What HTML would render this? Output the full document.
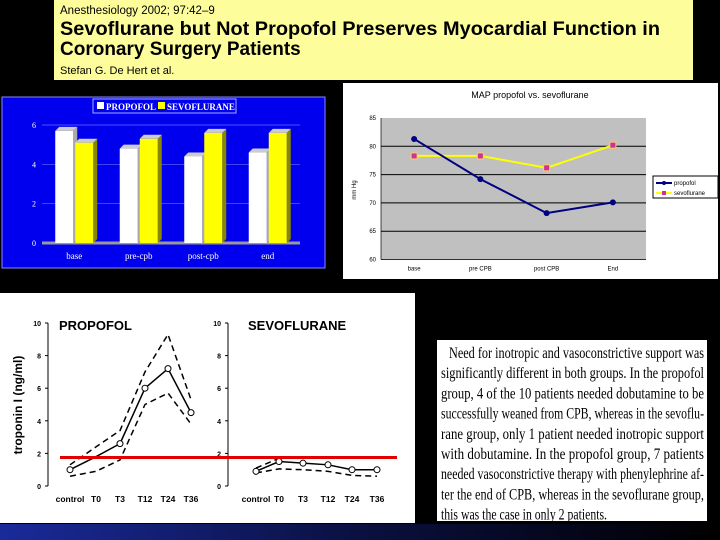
<!DOCTYPE html>
<html><head><meta charset="utf-8"><style>
html,body{margin:0;padding:0;background:#000;}
svg{display:block;font-family:"Liberation Sans",sans-serif;}
</style></head><body>
<svg id="s" width="720" height="540" viewBox="0 0 720 540">
<rect x="0" y="0" width="720" height="540" fill="#000"/>
<defs><linearGradient id="bg" x1="0" x2="1"><stop offset="0" stop-color="#1a2a9a"/><stop offset="0.5" stop-color="#0a1040"/><stop offset="1" stop-color="#000"/></linearGradient></defs>
<rect x="0" y="524" width="720" height="16" fill="url(#bg)"/>
<g>
<rect x="54" y="0" width="639" height="80" fill="#fdfd9c"/>
<text x="60" y="14" font-size="11.5" fill="#000">Anesthesiology 2002; 97:42–9</text>
<text x="60" y="35" font-size="19" font-weight="bold" fill="#000" textLength="600" lengthAdjust="spacingAndGlyphs">Sevoflurane but Not Propofol Preserves Myocardial Function in</text>
<text x="60" y="55" font-size="19" font-weight="bold" fill="#000">Coronary Surgery Patients</text>
<text x="60" y="74" font-size="11" fill="#000">Stefan G. De Hert et al.</text>
</g>
<g id="bar">
<rect x="2" y="97" width="323" height="171" fill="#0000ee" stroke="#8888ff"/>
<rect x="93" y="99" width="143" height="14" fill="none" stroke="#aaaaff"/>
<rect x="97" y="102" width="7" height="7" fill="#fff"/>
<text x="106" y="110" font-size="9" font-family="Liberation Serif" font-weight="bold" fill="#fff">PROPOFOL</text>
<rect x="158" y="102" width="7" height="7" fill="#ffff00"/>
<text x="167" y="110" font-size="9" font-family="Liberation Serif" font-weight="bold" fill="#fff">SEVOFLURANE</text>
</g>
<g id="map">
<rect x="343" y="83" width="375" height="196" fill="#fff"/>
<rect x="381" y="118" width="265" height="142" fill="#c0c0c0"/>
<text x="530" y="98" font-size="9" text-anchor="middle" fill="#000">MAP propofol vs. sevoflurane</text>
<text x="356" y="190" font-size="6" text-anchor="middle" transform="rotate(-90 356 190)">mm Hg</text>
<rect x="653" y="176" width="65" height="22" fill="#fff" stroke="#000"/>
<line x1="656" y1="183" x2="672" y2="183" stroke="#000080" stroke-width="2"/>
<circle cx="664" cy="183" r="2" fill="#000080"/>
<text x="674" y="185" font-size="6">propofol</text>
<line x1="656" y1="193" x2="672" y2="193" stroke="#ffff00" stroke-width="2"/>
<rect x="662" y="191" width="4" height="4" fill="#cc3399"/>
<text x="674" y="195" font-size="6">sevoflurane</text>
</g>
<g id="trop">
<rect x="0" y="293" width="415" height="230" fill="#fff"/>
<text x="22" y="405" font-size="12" font-weight="bold" text-anchor="middle" transform="rotate(-90 22 405)">troponin I (ng/ml)</text>
<text x="59" y="330" font-size="13" font-weight="bold">PROPOFOL</text>
<text x="248" y="330" font-size="13" font-weight="bold">SEVOFLURANE</text>
</g>
<g>
<rect x="437" y="340" width="270" height="181" fill="#fff"/>
<g id="para" font-family="Liberation Serif" font-size="16" fill="#000"></g>
</g>
</svg>
<script>
const NS="http://www.w3.org/2000/svg";
function mk(parent,tag,attrs){const e=document.createElementNS(NS,tag);for(const k in attrs)e.setAttribute(k,attrs[k]);parent.appendChild(e);return e;}

// ---- Bar chart data ----
const barCats=["base","pre-cpb","post-cpb","end"];
const barPropofol=[5.7,4.8,4.4,4.6];
const barSevo=[5.1,5.3,5.6,5.6];
const barTicks=[0,2,4,6];

// ---- MAP chart data ----
const mapCats=["base","pre CPB","post CPB","End"];
const mapPropofol=[81.3,74.2,68.2,70.1];
const mapSevo=[78.3,78.3,76.2,80.2];
const mapTicks=[85,80,75,70,65,60];

// ---- Troponin data ----
const tropCats=["control","T0","T3","T12","T24","T36"];
const propMean=[1.0,1.8,2.6,6.0,7.2,4.5];
const propUpper=[1.3,2.4,3.4,7.0,9.3,5.3];
const propLower=[0.6,0.9,1.6,5.0,5.7,3.8];
const sevoMean=[0.9,1.5,1.4,1.3,1.0,1.0];
const sevoUpper=[1.1,1.7,1.7,1.7,1.7,1.7];
const sevoLower=[0.8,1.05,1.0,0.9,0.65,0.6];
const tropTicks=[0,2,4,6,8,10];
const thresholdValue=1.75;

// Bar chart
(function(){
 const g=document.getElementById('bar');
 const x0=42,x1=300,y0=243,yTop=125,vmax=6;
 const y=v=>y0-(v/vmax)*(y0-yTop);
 const band=(x1-x0)/barCats.length;
 const cx=i=>x0+band*(i+0.5);
 barTicks.forEach(t=>{
  if(t>0){const l=mk(g,'line',{x1:x0,y1:y(t),x2:x1,y2:y(t),stroke:'#6a6aff','stroke-width':0.7});
  }
  const tx=mk(g,'text',{x:x0-6,y:y(t)+3,'font-size':8,fill:'#fff','text-anchor':'end','font-family':'Liberation Serif'});tx.textContent=t;
  
 });
 mk(g,'line',{x1:x0,y1:y0,x2:x1,y2:y0,stroke:'#999','stroke-width':3});
 const bw=18,d=4;
 function bar(xl,v,front,side,name){
  const top=y(v);
  mk(g,'polygon',{points:`${xl+bw},${top} ${xl+bw+d},${top-d} ${xl+bw+d},${y0-d} ${xl+bw},${y0}`,fill:side});
  mk(g,'polygon',{points:`${xl},${top} ${xl+d},${top-d} ${xl+bw+d},${top-d} ${xl+bw},${top}`,fill:'#ccc'});
  const r=mk(g,'rect',{x:xl,y:top,width:bw,height:y0-top,fill:front});
  
 }
 barCats.forEach((c,i)=>{
  bar(cx(i)-bw-1,barPropofol[i],'#fff','#aaa','bar-propofol');
  bar(cx(i)+1,barSevo[i],'#ffff00','#888800','bar-sevoflurane');
  const tx=mk(g,'text',{x:cx(i),y:y0+16,'font-size':9,fill:'#fff','text-anchor':'middle','font-family':'Liberation Serif'});tx.textContent=c;
  
 });
})();

// MAP chart
(function(){
 const g=document.getElementById('map');
 const x0=381,x1=646,yT=118,yB=259.5,vT=85,vB=60;
 const y=v=>yT+(vT-v)/(vT-vB)*(yB-yT);
 const band=(x1-x0)/mapCats.length;
 const cx=i=>x0+band*(i+0.5);
 mapTicks.forEach(t=>{
  if(t!==vT&&t!==vB){const l=mk(g,'line',{x1:x0,y1:y(t),x2:x1,y2:y(t),stroke:'#000','stroke-width':1});
  }
  const tx=mk(g,'text',{x:x0-5,y:y(t)+2,'font-size':6,'text-anchor':'end'});tx.textContent=t;
  
 });
 mk(g,'line',{x1:x0,y1:yT,x2:x0,y2:yB,stroke:'#000','stroke-width':0.7});
 mk(g,'line',{x1:x0,y1:yB,x2:x1,y2:yB,stroke:'#000','stroke-width':0.7});
 mapCats.forEach((c,i)=>{
  const tx=mk(g,'text',{x:cx(i),y:yB+11,'font-size':6,'text-anchor':'middle'});tx.textContent=c;
  
 });
 const sp=mk(g,'polyline',{points:mapSevo.map((v,i)=>cx(i)+','+y(v)).join(' '),fill:'none',stroke:'#ffff00','stroke-width':2});
 
 mapSevo.forEach((v,i)=>{const r=mk(g,'rect',{x:cx(i)-3,y:y(v)-3,width:6,height:6,fill:'#cc3399',stroke:'#ffcc66','stroke-width':1});
  });
 const pp=mk(g,'polyline',{points:mapPropofol.map((v,i)=>cx(i)+','+y(v)).join(' '),fill:'none',stroke:'#000080','stroke-width':2});
 
 mapPropofol.forEach((v,i)=>{const c=mk(g,'circle',{cx:cx(i),cy:y(v),r:3,fill:'#000080'});
  });
})();

// Troponin charts
(function(){
 const g=document.getElementById('trop');
 const y0=486,yTop=323;
 const y=v=>y0-(v/10)*(y0-yTop);
 function panel(ax,xs,mean,up,lo,name){
  mk(g,'line',{x1:ax,y1:yTop,x2:ax,y2:y0,stroke:'#000','stroke-width':1});
  tropTicks.forEach(t=>{
   mk(g,'line',{x1:ax-3,y1:y(t),x2:ax,y2:y(t),stroke:'#000'});
   const tx=mk(g,'text',{x:ax-7,y:y(t)+3,'font-size':7,'font-weight':'bold','text-anchor':'end'});tx.textContent=t;
   
  });
  tropCats.forEach((c,i)=>{
   const tx=mk(g,'text',{x:xs[i],y:y0+16,'font-size':8.5,'font-weight':'bold','text-anchor':'middle'});tx.textContent=c;
   
  });
  [up,lo].forEach(arr=>{const l=mk(g,'polyline',{points:arr.map((v,i)=>xs[i]+','+y(v)).join(' '),fill:'none',stroke:'#000','stroke-width':1.5,'stroke-dasharray':'6,4'});
   });
  const m=mk(g,'polyline',{points:mean.map((v,i)=>xs[i]+','+y(v)).join(' '),fill:'none',stroke:'#000','stroke-width':1.5});
  
  mean.forEach((v,i)=>{if(i===1&&name==='propofol')return;const c=mk(g,'circle',{cx:xs[i],cy:y(v),r:3,fill:'#fff',stroke:'#000'});
   });
 }
 const xsL=[70,96,120,145,168,191];
 const xsR=[256,279,303,328,352,377];
 panel(48,xsL,propMean,propUpper,propLower,'propofol');
 panel(228,xsR,sevoMean,sevoUpper,sevoLower,'sevoflurane');
 const r=mk(g,'line',{x1:60,y1:y(thresholdValue),x2:397,y2:y(thresholdValue),stroke:'#e00000','stroke-width':3});
 
})();

// paragraph
(function(){
 const g=document.getElementById('para');
 const lines=["Need for inotropic and vasoconstrictive support was","significantly different in both groups. In the propofol","group, 4 of the 10 patients needed dobutamine to be","successfully weaned from CPB, whereas in the sevoflu-","rane group, only 1 patient needed inotropic support","with dobutamine. In the propofol group, 7 patients","needed vasoconstrictive therapy with phenylephrine af-","ter the end of CPB, whereas in the sevoflurane group,","this was the case in only 2 patients."];
 lines.forEach((s,i)=>{
  const a={x:i===0?449:441,y:358+i*20.2,lengthAdjust:'spacingAndGlyphs'};
  a.textLength=i===0?255:(i===8?166:263);
  const t=mk(g,'text',a);t.textContent=s;
  
 });
})();
</script>
</body></html>
